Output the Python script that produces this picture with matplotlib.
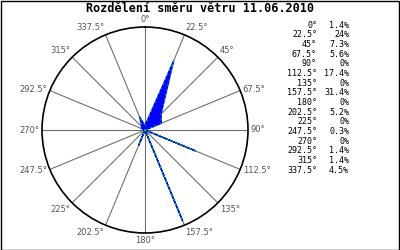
import numpy as np
import matplotlib
matplotlib.use('Agg')
from matplotlib import pyplot as plt
from matplotlib.patches import Rectangle

# wind direction distribution, 11.06.2010
title = 'Rozdělení směru větru 11.06.2010'
directions = [0, 22.5, 45, 67.5, 90, 112.5, 135, 157.5,
              180, 202.5, 225, 247.5, 270, 292.5, 315, 337.5]
percent = [1.4, 24, 7.3, 5.6, 0, 17.4, 0, 31.4,
           0, 5.2, 0, 0.3, 0, 1.4, 1.4, 4.5]
r_max = 33.0

W, H = 400, 250
fig = plt.figure(figsize=(4, 2.5), dpi=100)
fig.patch.set_facecolor('white')

# polar area: centre (145,130) px, radius 103 px
cx, cy, R = 145, 130, 103
ax = fig.add_axes([(cx - R) / W, (H - cy - R) / H, 2 * R / W, 2 * R / H],
                  projection='polar')
ax.set_theta_zero_location('N')
ax.set_theta_direction(-1)
ax.set_rlim(0, r_max)
ax.set_yticks([])
ax.set_xticks(np.radians(directions))
ax.set_xticklabels([])
ax.grid(True, color='#707070', linewidth=0.8)
ax.spines['polar'].set_color('black')
ax.spines['polar'].set_linewidth(1.2)
ax.set_facecolor('white')

# direction labels around the circle
for d in directions:
    th = np.radians(d)
    s, c = np.sin(th), np.cos(th)
    ha = 'left' if s > 0.01 else ('right' if s < -0.01 else 'center')
    va = 'bottom' if c > 0.5 else ('top' if c < -0.5 else 'center')
    ax.annotate(f'{d:g}°', xy=(th, r_max), xytext=(2 * s, 2 * c),
                textcoords='offset points', ha=ha, va=va,
                fontsize=6, color='#555555', annotation_clip=False)

# distribution polygon
th = np.radians(directions + [directions[0]])
rr = np.array(percent + [percent[0]])
ax.fill(th, rr, color='blue', zorder=3, linewidth=0)
ax.plot(th, rr, color='blue', linewidth=1.0, zorder=4)
ax.plot(th, rr, color='#00dd00', linewidth=0.6, linestyle=(0, (2, 4)), zorder=5)

# title
fig.text(0.5, 1 - 9 / H, title, ha='center', va='center',
         fontsize=8.5, fontweight='bold', family='DejaVu Sans Mono')

# legend table on the right
for i, (d, p) in enumerate(zip(directions, percent)):
    y = 1 - (25 + i * 9.67) / H
    fig.text(317 / W, y, f'{d:g}°', ha='right', va='center',
             fontsize=6, family='DejaVu Sans Mono')
    fig.text(349 / W, y, f'{p:g}%', ha='right', va='center',
             fontsize=6, family='DejaVu Sans Mono')

# frame around the image
fig.patches.append(Rectangle((0.5 / W, 0.5 / H), 1 - 1.5 / W, 1 - 1.5 / H,
                             transform=fig.transFigure, fill=False,
                             edgecolor='black', linewidth=1.0))

fig.savefig('out.png', dpi=100)
